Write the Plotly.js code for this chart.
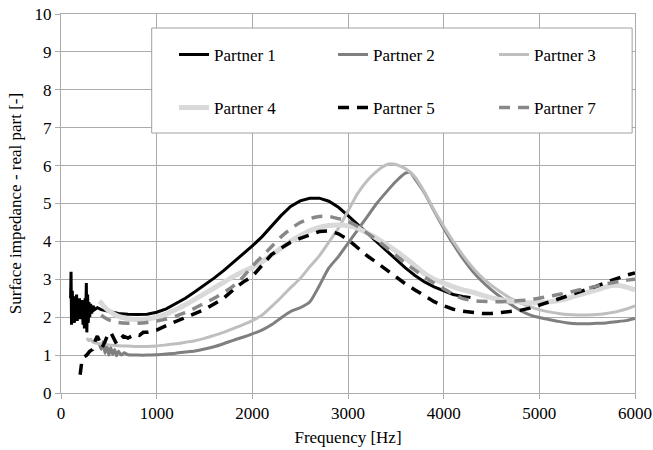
<!DOCTYPE html>
<html>
<head>
<meta charset="utf-8">
<script src="https://cdn.plot.ly/plotly-3.0.1.min.js"></script>
<style>html,body{margin:0;padding:0;background:#fff;}#chart{width:653px;height:450px;}</style>
</head>
<body>
<div id="chart"></div>
<script>
// Partner 1 (black solid)
const p1Freq = [100,105,110,118,125,132,140,148,155,163,170,178,185,193,200,208,215,223,230,238,245,252,258,265,270,278,285,292,300,310,320,335,350,380,420,500,600,700,800,900,1000,1100,1200,1300,1400,1500,1600,1700,1800,1900,2000,2100,2200,2300,2400,2500,2600,2700,2800,2900,3000,3100,3200,3300,3400,3500,3600,3700,3800,3900,4000,4100,4200,4280];
const p1Val  = [2.5,3.2,1.8,2.7,2.0,2.55,1.85,2.5,2.1,2.6,1.9,2.45,2.05,2.5,1.95,2.4,2.1,2.45,1.8,2.3,1.7,2.5,2.0,2.9,1.6,2.6,1.85,2.4,2.0,2.35,2.1,2.3,2.2,2.25,2.2,2.15,2.1,2.08,2.07,2.08,2.13,2.22,2.35,2.5,2.67,2.84,3.03,3.23,3.45,3.65,3.88,4.12,4.4,4.68,4.92,5.07,5.14,5.14,5.06,4.9,4.68,4.45,4.2,3.98,3.75,3.52,3.3,3.1,2.93,2.8,2.7,2.6,2.55,2.52];

// Partner 2 (dark grey solid)
const p2Freq = [400,420,440,460,480,500,520,540,560,580,600,630,660,700,800,900,1000,1100,1200,1300,1400,1500,1600,1700,1800,1900,2000,2100,2200,2300,2400,2500,2600,2700,2800,2900,3000,3100,3200,3300,3400,3500,3600,3650,3700,3800,3900,4000,4100,4200,4300,4400,4500,4600,4700,4800,4900,5000,5100,5200,5300,5400,5500,5600,5700,5800,5900,6000];
const p2Val  = [1.3,1.15,1.35,1.05,1.25,1.0,1.2,1.02,1.15,0.98,1.1,1.0,1.06,1.01,1.0,1.0,1.01,1.03,1.05,1.08,1.11,1.16,1.22,1.3,1.39,1.47,1.56,1.66,1.8,1.98,2.15,2.25,2.4,2.83,3.3,3.6,3.95,4.3,4.65,5.0,5.3,5.58,5.8,5.82,5.65,5.28,4.8,4.35,3.93,3.55,3.22,2.95,2.72,2.52,2.34,2.18,2.06,1.99,1.94,1.89,1.85,1.83,1.83,1.84,1.85,1.88,1.91,1.97];

// Partner 3 (light grey solid)
const p3Freq = [270,290,310,330,360,400,500,600,700,800,900,1000,1100,1200,1300,1400,1500,1600,1700,1800,1900,2000,2100,2200,2300,2400,2500,2600,2700,2800,2900,3000,3100,3200,3300,3400,3450,3500,3600,3700,3800,3900,4000,4100,4200,4300,4400,4500,4600,4700,4800,4900,5000,5100,5200,5300,5400,5500,5600,5700,5800,5900,6000];
const p3Val  = [1.45,1.38,1.42,1.35,1.32,1.3,1.27,1.25,1.24,1.23,1.23,1.24,1.27,1.3,1.34,1.38,1.44,1.52,1.6,1.7,1.8,1.91,2.05,2.28,2.52,2.78,3.02,3.33,3.62,3.98,4.35,4.8,5.26,5.6,5.85,6.02,6.05,6.03,5.92,5.7,5.3,4.82,4.4,4.0,3.64,3.32,3.05,2.84,2.66,2.5,2.38,2.28,2.2,2.14,2.1,2.07,2.06,2.06,2.07,2.1,2.14,2.21,2.3];

// Partner 4 (very light grey, thick)
const p4Freq = [400,420,450,500,600,700,800,900,1000,1100,1200,1300,1400,1500,1600,1700,1800,1900,2000,2100,2200,2300,2400,2500,2600,2700,2800,2900,3000,3100,3200,3300,3400,3500,3600,3700,3800,3900,4000,4100,4200,4300,4400,4500,4600,4700,4800,4900,5000,5100,5200,5300,5400,5500,5600,5700,5800,5900,6000];
const p4Val  = [2.42,2.38,2.28,2.17,2.02,1.96,1.94,1.95,2.0,2.08,2.2,2.33,2.47,2.62,2.77,2.92,3.07,3.2,3.32,3.46,3.64,3.82,4.0,4.15,4.28,4.37,4.42,4.43,4.41,4.35,4.22,4.08,3.92,3.75,3.56,3.36,3.15,3.0,2.9,2.8,2.72,2.66,2.58,2.51,2.46,2.42,2.4,2.38,2.38,2.4,2.44,2.5,2.58,2.65,2.72,2.8,2.84,2.8,2.72];

// Partner 5 (black dashed)
const p5Freq = [200,216,240,268,300,330,360,380,400,430,460,490,520,550,580,610,650,700,740,780,820,860,900,1000,1100,1200,1300,1400,1500,1600,1700,1800,1900,2000,2100,2200,2300,2400,2500,2600,2700,2800,2900,3000,3100,3200,3300,3400,3500,3600,3700,3800,3900,4000,4100,4200,4300,4400,4500,4600,4700,4800,4900,5000,5100,5200,5300,5400,5500,5600,5700,5800,5900,6000];
const p5Val  = [0.48,0.8,0.95,1.0,1.1,1.15,1.4,1.5,1.38,1.2,1.35,1.55,1.6,1.45,1.3,1.4,1.5,1.45,1.5,1.55,1.52,1.6,1.6,1.66,1.78,1.88,1.98,2.08,2.2,2.35,2.5,2.72,2.92,3.08,3.38,3.65,3.82,3.98,4.08,4.18,4.26,4.28,4.2,4.05,3.82,3.62,3.44,3.25,3.06,2.88,2.72,2.56,2.41,2.3,2.21,2.16,2.12,2.1,2.1,2.12,2.14,2.18,2.24,2.31,2.4,2.48,2.56,2.64,2.73,2.82,2.92,3.02,3.1,3.17];

// Partner 7 (grey dashed)
const p7Freq = [420,450,500,600,700,800,900,1000,1100,1200,1300,1400,1500,1600,1700,1800,1900,2000,2100,2200,2300,2400,2500,2600,2700,2800,2900,3000,3100,3200,3300,3400,3500,3600,3700,3800,3900,4000,4100,4200,4300,4400,4500,4600,4700,4800,4900,5000,5100,5200,5300,5400,5500,5600,5700,5800,5900,6000];
const p7Val  = [2.05,2.0,1.93,1.86,1.84,1.84,1.86,1.9,1.95,2.03,2.12,2.24,2.37,2.5,2.65,2.82,3.05,3.35,3.6,3.86,4.12,4.33,4.5,4.6,4.66,4.66,4.6,4.53,4.4,4.22,4.04,3.84,3.63,3.43,3.24,3.06,2.9,2.75,2.6,2.49,2.44,2.42,2.41,2.41,2.42,2.44,2.46,2.5,2.55,2.6,2.65,2.71,2.76,2.82,2.88,2.93,2.97,3.0];

const seriesNames = ["Partner 1","Partner 2","Partner 3","Partner 4","Partner 5","Partner 7"];
const xTitle = "Frequency [Hz]";
const yTitle = "Surface impedance - real part [-]";

const FONT = 'Liberation Serif, Times New Roman, serif';
const GRID = '#ababab';

const legendIds = ['legend','legend2','legend3','legend4','legend5','legend6'];

const traces = [
  {x:p1Freq, y:p1Val, name:seriesNames[0], line:{color:'#000000', width:3}},
  {x:p2Freq, y:p2Val, name:seriesNames[1], line:{color:'#7f7f7f', width:3, shape:'spline', smoothing:0.6}},
  {x:p3Freq, y:p3Val, name:seriesNames[2], line:{color:'#bfbfbf', width:3, shape:'spline', smoothing:0.6}},
  {x:p4Freq, y:p4Val, name:seriesNames[3], line:{color:'#d9d9d9', width:5, shape:'spline', smoothing:0.6}},
  {x:p5Freq, y:p5Val, name:seriesNames[4], line:{color:'#000000', width:3.5, dash:'11px,8px'}},
  {x:p7Freq, y:p7Val, name:seriesNames[5], line:{color:'#888888', width:3.5, dash:'11px,8px', shape:'spline', smoothing:0.6}}
].map((t, i) => Object.assign({type:'scatter', mode:'lines', hoverinfo:'skip', legend:legendIds[i]}, t));

// legend grid: 3 columns x 2 rows
const colX = [0.1969, 0.4739, 0.7544];
const rowY = [0.892, 0.752];

const layout = {
  width:653, height:450,
  margin:{l:61, r:18, t:14, b:57},
  paper_bgcolor:'#fff', plot_bgcolor:'#fff',
  font:{family:FONT, size:17, color:'#000'},
  showlegend:true,
  shapes:[{type:'rect', xref:'paper', yref:'paper', x0:0.158, x1:0.995, y0:0.686, y1:0.963,
           line:{color:'#a0a0a0', width:1}, fillcolor:'#ffffff', layer:'above'}],
  xaxis:{range:[0,6000], dtick:1000, tick0:0, showgrid:true, gridcolor:GRID, gridwidth:1,
         showline:true, linecolor:GRID, linewidth:1, mirror:true,
         ticks:'outside', ticklen:5, tickcolor:GRID, zeroline:false,
         tickfont:{family:FONT, size:17, color:'#000'},
         title:{text:xTitle, font:{family:FONT, size:17, color:'#000'}, standoff:8}},
  yaxis:{range:[0,10], dtick:1, tick0:0, showgrid:true, gridcolor:GRID, gridwidth:1,
         showline:true, linecolor:GRID, linewidth:1, mirror:true,
         ticks:'outside', ticklen:5, tickcolor:GRID, zeroline:false,
         tickfont:{family:FONT, size:17, color:'#000'},
         title:{text:yTitle, font:{family:FONT, size:17, color:'#000'}, standoff:8}}
};

legendIds.forEach((id, i) => {
  layout[id] = {
    orientation:'v', x:colX[i % 3], y:rowY[Math.floor(i / 3)],
    xanchor:'left', yanchor:'middle',
    bgcolor:'rgba(0,0,0,0)', borderwidth:0,
    font:{family:FONT, size:17, color:'#000'}
  };
});

Plotly.newPlot('chart', traces, layout, {staticPlot:true, displayModeBar:false});
</script>
</body>
</html>
